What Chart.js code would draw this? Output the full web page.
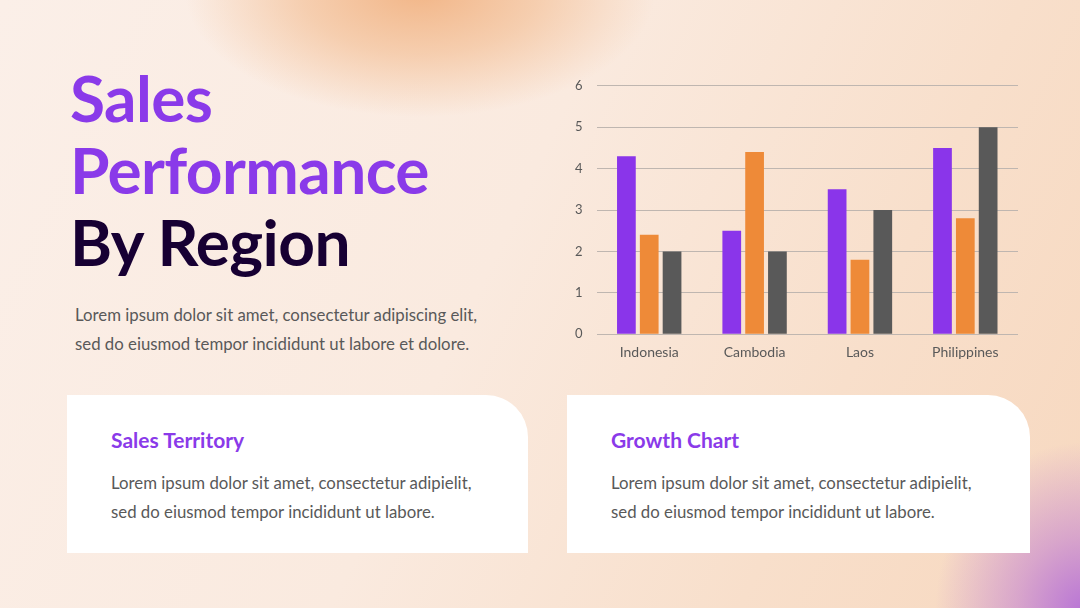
<!DOCTYPE html>
<html>
<head>
<meta charset="utf-8">
<script src="https://cdn.jsdelivr.net/npm/chart.js@4"></script>
<style>
  html, body { margin: 0; padding: 0; }
  body {
    width: 1080px; height: 608px; overflow: hidden; position: relative;
    background:
      radial-gradient(ellipse 150px 170px at 1085px 612px, rgba(180,110,215,0.95) 0%, rgba(195,130,210,0.6) 45%, rgba(230,180,200,0) 100%),
      radial-gradient(ellipse 235px 125px at 420px -8px, rgba(242,182,136,1) 0%, rgba(244,196,158,0.75) 50%, rgba(248,220,200,0) 100%),
      linear-gradient(115deg, #fbefe8 0%, #faeadf 45%, #f8dfcb 75%, #f7d8bf 100%);
    font-family: Lato, "Open Sans", sans-serif;
  }
  .title {
    position: absolute; left: 70px; top: 62px; margin: 0;
    font-family: Lato, sans-serif; font-weight: 700; font-size: 64px; line-height: 72px;
    letter-spacing: -0.6px;
  }
  .title .p { color: #8a3ae9; }
  .title .d { color: #170033; }
  .lead {
    position: absolute; left: 75px; top: 300px; margin: 0;
    font-size: 16.8px; line-height: 29px; color: #595959;
  }
  .card {
    position: absolute; top: 395px; height: 158px; background: #fff;
    border-top-right-radius: 42px;
  }
  .card h3 {
    position: absolute; left: 44px; top: 32px; margin: 0;
    font-size: 21px; font-weight: 700; color: #8a3ae9;
  }
  .card p {
    position: absolute; left: 44px; top: 73px; margin: 0;
    font-size: 16.8px; line-height: 29px; color: #595959;
  }
  #wrap { position: absolute; left: 561px; top: 64px; width: 457px; height: 299px; }
</style>
</head>
<body>
<h1 class="title"><span class="p">Sales</span><br><span class="p">Performance</span><br><span class="d">By Region</span></h1>
<p class="lead">Lorem ipsum dolor sit amet, consectetur adipiscing elit,<br>sed do eiusmod tempor incididunt ut labore et dolore.</p>

<div class="card" style="left:67px;width:461px;">
  <h3>Sales Territory</h3>
  <p>Lorem ipsum dolor sit amet, consectetur adipielit,<br>sed do eiusmod tempor incididunt ut labore.</p>
</div>
<div class="card" style="left:567px;width:463px;">
  <h3>Growth Chart</h3>
  <p>Lorem ipsum dolor sit amet, consectetur adipielit,<br>sed do eiusmod tempor incididunt ut labore.</p>
</div>

<div id="wrap"><canvas id="salesChart"></canvas></div>

<script>
// Sales by region
const regions = ["Indonesia", "Cambodia", "Laos", "Philippines"];
const seriesA = [4.3, 2.5, 3.5, 4.5];
const seriesB = [2.4, 4.4, 1.8, 2.8];
const seriesC = [2.0, 2.0, 3.0, 5.0];
const yTicks = [0, 1, 2, 3, 4, 5, 6];

const salesChart = new Chart(document.getElementById("salesChart"), {
  type: "bar",
  data: {
    labels: regions,
    datasets: [
      { label: "Series 1", data: seriesA, backgroundColor: "#8a35ea" },
      { label: "Series 2", data: seriesB, backgroundColor: "#ee8a38" },
      { label: "Series 3", data: seriesC, backgroundColor: "#595959" }
    ]
  },
  options: {
    responsive: true,
    maintainAspectRatio: false,
    animation: false,
    categoryPercentage: 0.65,
    barPercentage: 0.82,
    plugins: {
      legend: { display: false },
      tooltip: { enabled: false }
    },
    scales: {
      x: {
        grid: { display: false },
        border: { display: false },
        ticks: { color: "#595959", font: { family: "Lato", size: 14 }, padding: 2 }
      },
      y: {
        min: yTicks[0],
        max: yTicks[yTicks.length - 1],
        afterBuildTicks: function (axis) {
          axis.ticks = yTicks.map(function (v) { return { value: v }; });
        },
        grid: { color: "#bfb6b0", drawTicks: false },
        border: { display: false },
        ticks: { color: "#595959", font: { family: "Lato", size: 13 }, padding: 14 }
      }
    }
  }
});
</script>
</body>
</html>
